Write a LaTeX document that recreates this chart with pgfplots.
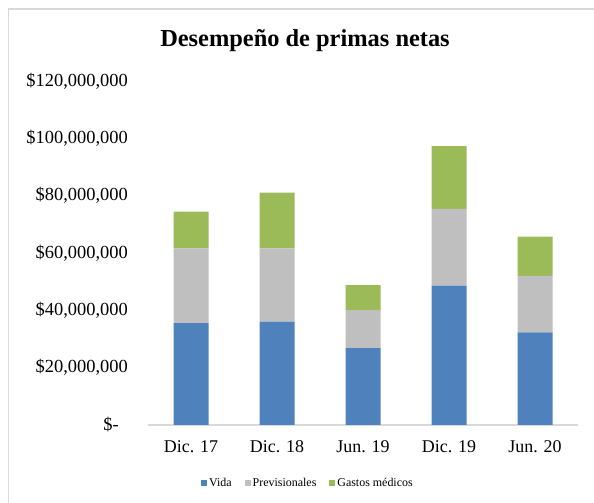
\documentclass[border=0pt]{standalone}
\usepackage{fontspec}
\setmainfont{Liberation Serif}
\usepackage{pgfplots}
\pgfplotsset{compat=1.18}
\definecolor{cvida}{HTML}{4F81BD}
\definecolor{cprev}{HTML}{BFBFBF}
\definecolor{cgast}{HTML}{9BBB59}
\definecolor{axgray}{HTML}{D9D9D9}
\begin{document}
\begin{tikzpicture}
\path[use as bounding box] (0bp,0bp) rectangle (594bp,503bp);
\draw[axgray, line width=1.5bp] (8.5bp,-2bp) -- (8.5bp,494bp) -- (597bp,494bp);
\node[anchor=base, inner sep=0pt, font=\bfseries\fontsize{24.5}{28}\selectfont] at (305bp,456bp) {Desempeño de primas netas};
\begin{axis}[
  at={(148bp,78bp)}, anchor=south west,
  scale only axis, width=430bp, height=344bp,
  ybar stacked, bar width=35bp,
  xmin=-0.5, xmax=4.5, ymin=0, ymax=120000000,
  axis lines*=left,
  x axis line style={draw=axgray, line width=1.5bp},
  y axis line style={draw=none},
  tick style={draw=none},
  xtick={0,1,2,3,4},
  xticklabels={Dic. 17, Dic. 18, Jun. 19, Dic. 19, Jun. 20},
  ytick={0,20000000,40000000,60000000,80000000,100000000,120000000},
  yticklabels={{\$-\hspace*{9bp}},{\$20,000,000},{\$40,000,000},{\$60,000,000},{\$80,000,000},{\$100,000,000},{\$120,000,000}},
  scaled y ticks=false,
  yticklabel style={anchor=east, inner sep=0pt, xshift=-20bp, font=\fontsize{18.5}{20}\selectfont},
  xticklabel style={anchor=north, inner sep=0pt, yshift=-15bp, font=\fontsize{18}{20}\selectfont},
  legend style={at={(0.372,-0.1686)}, anchor=center, draw=none, fill=none,
    legend columns=3, font=\fontsize{12}{14}\selectfont, inner sep=0pt,
    /tikz/every even column/.append style={column sep=11bp}},
  legend image code/.code={\fill[#1] (0bp,-3bp) rectangle (6bp,3bp);},
]
\addplot[fill=cvida, draw=none] coordinates {(0,35500000) (1,36100000) (2,26800000) (3,48600000) (4,32300000)};
\addplot[fill=cprev, draw=none] coordinates {(0,26100000) (1,25500000) (2,13300000) (3,26800000) (4,19700000)};
\addplot[fill=cgast, draw=none] coordinates {(0,12800000) (1,19500000) (2,8700000) (3,21900000) (4,13700000)};
\legend{Vida, Previsionales, Gastos médicos}
\end{axis}
\end{tikzpicture}
\end{document}
